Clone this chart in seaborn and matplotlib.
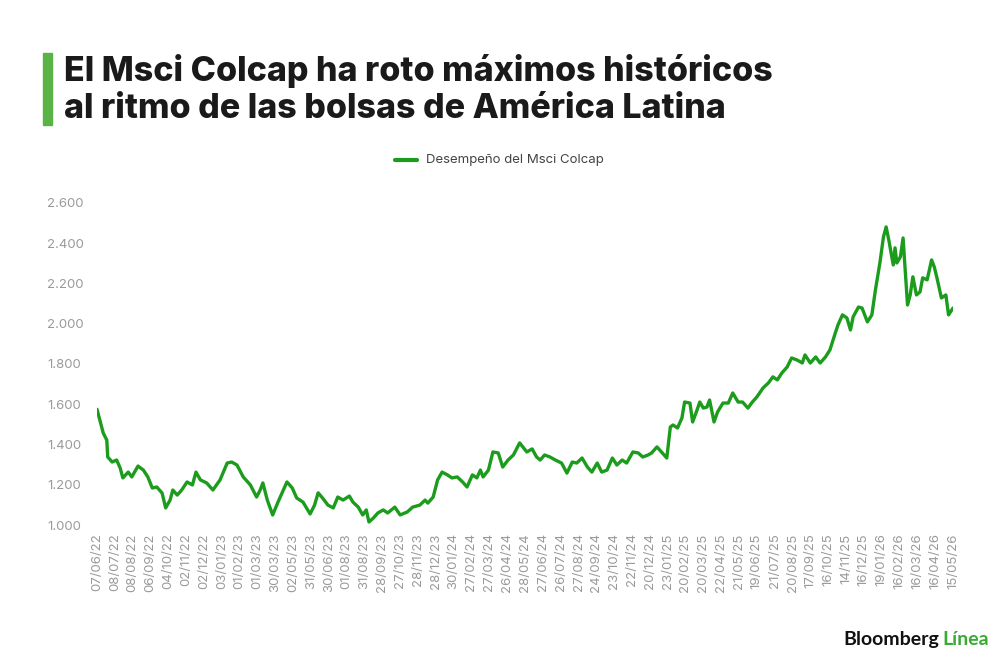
import matplotlib
matplotlib.use("Agg")
import matplotlib.pyplot as plt
import seaborn as sns
import pandas as pd
from matplotlib.ticker import FuncFormatter

# trading-session number (from 07/06/22) and index level
sessions = [0, 7, 11, 12, 17, 22, 26, 29, 35, 39, 46, 52, 57, 62, 67, 73, 77, 82, 85, 90,
            95, 101, 107, 111, 116, 123, 130, 138, 146, 151, 157, 164, 172, 179, 183, 186,
            191, 197, 203, 213, 219, 224, 231, 239, 244, 248, 253, 259, 265, 270, 276, 283,
            287, 293, 298, 302, 305, 310, 315, 321, 326, 334, 340, 348, 354, 362, 368, 371,
            377, 382, 387, 393, 398, 404, 410, 415, 421, 426, 430, 433, 439, 444, 450, 455,
            461, 467, 474, 482, 488, 493, 497, 502, 508, 514, 521, 527, 533, 538, 544, 550,
            555, 561, 566, 572, 578, 583, 589, 594, 601, 607, 612, 618, 622, 628, 634, 639,
            643, 646, 651, 656, 659, 665, 668, 673, 676, 680, 684, 687, 692, 696, 702, 708,
            713, 719, 724, 730, 735, 740, 747, 753, 758, 763, 768, 774, 779, 785, 791, 794,
            800, 806, 811, 817, 822, 828, 831, 836, 841, 845, 848, 854, 858, 864, 869, 873,
            878, 882, 885, 888, 893, 895, 897, 901, 904, 909, 912, 915, 919, 923, 926, 931,
            936, 939, 942, 947, 952, 955, 960]
colcap = [1575, 1457, 1422, 1338, 1313, 1323, 1283, 1234, 1263, 1239, 1293, 1273, 1239, 1184,
          1189, 1159, 1085, 1124, 1174, 1149, 1174, 1214, 1199, 1263, 1224, 1209, 1174, 1224,
          1308, 1313, 1298, 1239, 1199, 1139, 1174, 1209, 1124, 1050, 1114, 1214, 1184, 1134,
          1114, 1055, 1099, 1160, 1134, 1099, 1085, 1139, 1124, 1144, 1114, 1089, 1050, 1075,
          1015, 1035, 1060, 1075, 1060, 1089, 1050, 1065, 1089, 1099, 1124, 1109, 1139, 1224,
          1263, 1249, 1234, 1239, 1214, 1189, 1249, 1234, 1273, 1239, 1273, 1363, 1358, 1288,
          1323, 1348, 1408, 1363, 1378, 1338, 1323, 1348, 1338, 1323, 1308, 1258, 1313, 1308,
          1333, 1288, 1263, 1308, 1263, 1273, 1333, 1298, 1323, 1308, 1363, 1358, 1338, 1348,
          1358, 1388, 1358, 1333, 1487, 1497, 1482, 1532, 1611, 1606, 1512, 1572, 1611, 1581,
          1586, 1621, 1512, 1562, 1606, 1606, 1656, 1611, 1611, 1581, 1611, 1636, 1681, 1706,
          1736, 1721, 1755, 1785, 1830, 1820, 1805, 1845, 1805, 1835, 1805, 1835, 1870, 1954,
          1994, 2044, 2029, 1969, 2034, 2083, 2078, 2009, 2044, 2168, 2302, 2431, 2481, 2416,
          2292, 2377, 2302, 2332, 2426, 2093, 2143, 2233, 2143, 2158, 2228, 2218, 2317, 2282,
          2228, 2128, 2143, 2044, 2078]

tick_labels = ["07/06/22", "08/07/22", "08/08/22", "06/09/22", "04/10/22", "02/11/22",
               "02/12/22", "03/01/23", "01/02/23", "01/03/23", "30/03/23", "02/05/23",
               "31/05/23", "30/06/23", "01/08/23", "31/08/23", "28/09/23", "27/10/23",
               "28/11/23", "28/12/23", "30/01/24", "27/02/24", "27/03/24", "26/04/24",
               "28/05/24", "27/06/24", "26/07/24", "27/08/24", "24/09/24", "23/10/24",
               "22/11/24", "20/12/24", "23/01/25", "20/02/25", "20/03/25", "22/04/25",
               "21/05/25", "19/06/25", "21/07/25", "20/08/25", "17/09/25", "16/10/25",
               "14/11/25", "16/12/25", "19/01/26", "16/02/26", "16/03/26", "16/04/26",
               "15/05/26"]
tick_step = 20
y_ticks = [1000, 1200, 1400, 1600, 1800, 2000, 2200, 2400, 2600]

green = "#1c9c1c"
gray = "#9a9a9a"

df = pd.DataFrame({"session": sessions, "valor": colcap})

sns.set_theme(style="white")
plt.rcParams["font.family"] = ["Inter", "DejaVu Sans"]

fig = plt.figure(figsize=(10, 6.6), dpi=100)
ax = fig.add_axes([0.097, 0.2045, 0.856, 0.488])

sns.lineplot(data=df, x="session", y="valor", ax=ax, color=green, linewidth=2.4)

ax.set_xlim(0, tick_step * (len(tick_labels) - 1))
ax.set_ylim(1000, 2600)
ax.set_xticks([i * tick_step for i in range(len(tick_labels))])
ax.set_xticklabels(tick_labels, rotation=90, fontsize=9.5, color=gray)
ax.set_yticks(y_ticks)
ax.yaxis.set_major_formatter(FuncFormatter(lambda v, p: f"{int(v):,}".replace(",", ".")))
ax.tick_params(axis="y", labelsize=9.5, labelcolor=gray, pad=36, length=0)
ax.tick_params(axis="x", pad=6, length=0)
for lab in ax.get_yticklabels():
    lab.set_horizontalalignment("left")
ax.set_xlabel("")
ax.set_ylabel("")
sns.despine(ax=ax, left=True, bottom=True)
ax.grid(False)

# title with green bar
fig.patches.append(plt.Rectangle((0.043, 0.811), 0.009, 0.109, transform=fig.transFigure,
                                 color="#5ab445", zorder=3))
fig.text(0.064, 0.877, "El Msci Colcap ha roto máximos históricos", fontsize=24.5,
         fontweight="heavy", color="#1a1a1a", va="baseline")
fig.text(0.064, 0.821, "al ritmo de las bolsas de América Latina", fontsize=24.5,
         fontweight="heavy", color="#1a1a1a", va="baseline")

# legend
fig.lines.append(plt.Line2D([0.395, 0.417], [0.758, 0.758], transform=fig.transFigure,
                            color=green, linewidth=3))
fig.text(0.426, 0.758, "Desempeño del Msci Colcap", fontsize=9.5, color="#444444",
         va="center")

# logo
renderer = fig.canvas.get_renderer()
t1 = fig.text(0.843, 0.0175, "Bloomberg", fontsize=14, fontweight="bold", color="#111111",
              va="bottom", family=["Lato", "DejaVu Sans"])
bb = t1.get_window_extent(renderer).transformed(fig.transFigure.inverted())
fig.text(bb.x1 + 0.004, 0.0175, "Línea", fontsize=14, fontweight="bold", color="#3aaa35",
         va="bottom", family=["Lato", "DejaVu Sans"])

fig.savefig("out.png", dpi=100)
